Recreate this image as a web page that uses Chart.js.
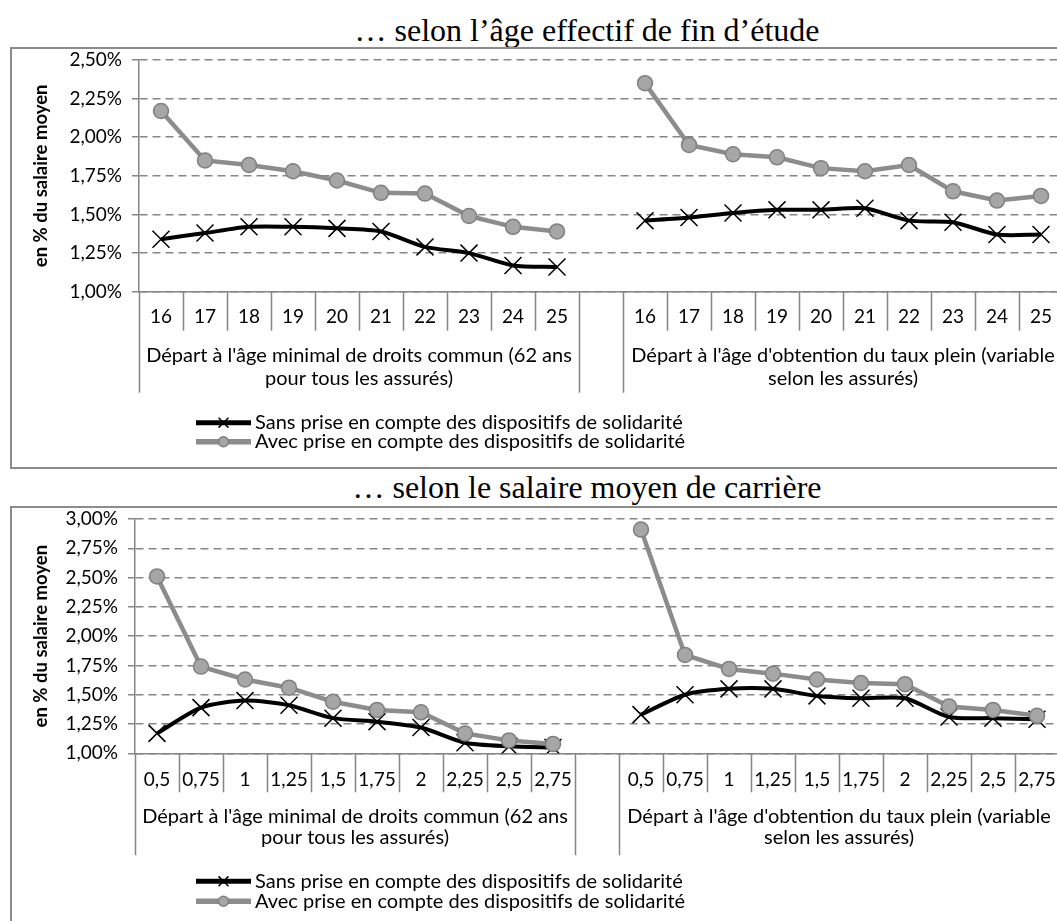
<!DOCTYPE html>
<html lang="fr">
<head>
<meta charset="utf-8">
<script src="https://cdn.jsdelivr.net/npm/chart.js@4.4.1/dist/chart.umd.min.js"></script>
<style>
  html, body { margin: 0; padding: 0; background: #fff; overflow: hidden; }
  body { width: 1057px; height: 921px; position: relative; }
  .titre { position: absolute; left: 0; width: 1174px; text-align: center; font-family: "Liberation Serif", "Times New Roman", serif; font-size: 32px; line-height: 30px; color: #000; white-space: nowrap; }
  .cadre { position: absolute; left: 10px; width: 1120px; border: 2px solid #8c8c8c; box-sizing: border-box; }
  .cadre canvas { position: absolute; left: 0; top: 0; }
</style>
</head>
<body>
<div class="titre" style="top:15px">… selon l’âge effectif de fin d’étude</div>
<div class="cadre" style="top:47px;height:422px"><canvas id="graphAge" width="1051" height="418"></canvas></div>
<div class="titre" style="top:472px">… selon le salaire moyen de carrière</div>
<div class="cadre" style="top:506px;height:460px"><canvas id="graphSalaire" width="1047" height="413"></canvas></div>
<script>
const categoriesAge = ['16', '17', '18', '19', '20', '21', '22', '23', '24', '25'];
const categoriesSalaire = ['0,5', '0,75', '1', '1,25', '1,5', '1,75', '2', '2,25', '2,5', '2,75'];
const groupes = [
  ["Départ à l'âge minimal de droits commun (62 ans", "pour tous les assurés)"],
  ["Départ à l'âge d'obtention du taux plein (variable", "selon les assurés)"]
];
const legendeSans = 'Sans prise en compte des dispositifs de solidarité';
const legendeAvec = 'Avec prise en compte des dispositifs de solidarité';

// valeurs en % du salaire moyen
const ageSansMinimal = [1.34, 1.38, 1.42, 1.42, 1.41, 1.39, 1.29, 1.25, 1.17, 1.16];
const ageSansTauxPlein = [1.46, 1.48, 1.51, 1.53, 1.53, 1.54, 1.46, 1.45, 1.37, 1.37];
const ageAvecMinimal = [2.17, 1.85, 1.82, 1.78, 1.72, 1.64, 1.635, 1.49, 1.42, 1.39];
const ageAvecTauxPlein = [2.35, 1.95, 1.89, 1.87, 1.80, 1.78, 1.82, 1.65, 1.59, 1.62];

const salaireSansMinimal = [1.17, 1.39, 1.45, 1.41, 1.30, 1.27, 1.22, 1.09, 1.06, 1.05];
const salaireSansTauxPlein = [1.33, 1.50, 1.55, 1.55, 1.49, 1.47, 1.47, 1.31, 1.30, 1.29];
const salaireAvecMinimal = [2.51, 1.74, 1.63, 1.56, 1.44, 1.37, 1.35, 1.17, 1.11, 1.08];
const salaireAvecTauxPlein = [2.91, 1.84, 1.72, 1.68, 1.63, 1.60, 1.59, 1.40, 1.37, 1.32];

const gris = '#868686';
const police = 'Lato, "Noto Sans", sans-serif';

// séparateurs, libellés de groupe et légende sous l'axe
const axeGroupes = {
  id: 'axeGroupes',
  afterDraw(chart, args, opts) {
    const ctx = chart.ctx;
    const x = chart.scales.x;
    const bas = chart.chartArea.bottom;
    const n = chart.data.labels.length;
    const largeur = x.getPixelForValue(1) - x.getPixelForValue(0);
    const longs = [0, 10, 11, 21];
    ctx.save();
    ctx.strokeStyle = gris;
    ctx.lineWidth = 1.5;
    for (let i = 0; i <= n; i++) {
      const px = Math.round(x.getPixelForValue(0) - largeur / 2 + i * largeur) + 0.5;
      ctx.beginPath();
      ctx.moveTo(px, bas);
      ctx.lineTo(px, bas + (longs.includes(i) ? opts.long : opts.court));
      ctx.stroke();
    }
    ctx.fillStyle = '#000';
    ctx.font = '20px ' + police;
    ctx.textAlign = 'center';
    ctx.textBaseline = 'middle';
    [[0, 9], [11, 20]].forEach(([a, b], g) => {
      const cx = (x.getPixelForValue(a) + x.getPixelForValue(b)) / 2;
      groupes[g].forEach((ligne, k) => ctx.fillText(ligne, cx, bas + opts.groupe[k]));
    });
    // légende
    chart.data.datasets.forEach((ds, i) => {
      const y = bas + opts.legende[i];
      const x1 = opts.legendeX, x2 = opts.legendeX + 55;
      ctx.strokeStyle = ds.borderColor;
      ctx.lineWidth = ds.borderWidth + 1;
      ctx.beginPath();
      ctx.moveTo(x1, y);
      ctx.lineTo(x2, y);
      ctx.stroke();
      ctx.fillStyle = ds.pointBackgroundColor;
      ctx.strokeStyle = ds.pointBorderColor;
      ctx.lineWidth = ds.pointBorderWidth;
      Chart.helpers.drawPoint(ctx, {pointStyle: ds.pointStyle, radius: ds.pointStyle === 'circle' ? 5 : 7, rotation: 0, borderWidth: ds.pointBorderWidth}, (x1 + x2) / 2, y);
      ctx.fillStyle = '#000';
      ctx.textAlign = 'left';
      ctx.fillText(ds.label, x2 + 4, y);
    });
    ctx.restore();
  }
};

function serie(a, b) {
  return a.concat([null], b);
}

function graphique(id, cats, sans, avec, ymin, ymax, place) {
  return new Chart(document.getElementById(id), {
    type: 'line',
    data: {
      labels: cats.concat([''], cats),
      datasets: [
        {
          label: legendeSans,
          data: sans,
          order: 2,
          borderColor: '#000',
          borderWidth: 4,
          tension: 0.25,
          pointStyle: 'crossRot',
          pointRadius: 12,
          pointBorderWidth: 1.5,
          pointBorderColor: '#000',
          pointBackgroundColor: '#000'
        },
        {
          label: legendeAvec,
          data: avec,
          order: 1,
          borderColor: '#8c8c8c',
          borderWidth: 4.5,
          tension: 0,
          pointStyle: 'circle',
          pointRadius: 7.5,
          pointBorderWidth: 1.5,
          pointBorderColor: '#808080',
          pointBackgroundColor: '#a6a6a6'
        }
      ]
    },
    options: {
      responsive: false,
      animation: false,
      spanGaps: false,
      layout: { autoPadding: false, padding: { top: 11, right: 0, bottom: 0, left: 0 } },
      plugins: {
        legend: { display: false },
        tooltip: { enabled: false },
        axeGroupes: place
      },
      scales: {
        x: {
          offset: true,
          afterFit(scale) {
            scale.height = place.hauteurX;
            scale.paddingLeft = 0;
            scale.paddingRight = 0;
          },
          grid: { display: false, drawTicks: false },
          border: { color: gris, width: 1.5 },
          ticks: { color: '#000', padding: place.padNombres, autoSkip: false, maxRotation: 0, font: { family: police, size: 19 } }
        },
        y: {
          min: ymin,
          max: ymax,
          afterFit(scale) {
            scale.width = place.largeurY;
            scale.paddingTop = 0;
            scale.paddingBottom = 0;
          },
          grid: { color: gris, lineWidth: 1.5, tickLength: 7 },
          border: { color: gris, width: 1.5, dash: [8, 5] },
          title: { display: true, text: 'en % du salaire moyen', color: '#000', padding: { top: 18, bottom: 0 }, font: { family: police, size: 18.5, weight: 'bold' } },
          ticks: { stepSize: 0.25, color: '#000', padding: 10, font: { family: police, size: 19 },
            callback: v => v.toFixed(2).replace('.', ',') + '%' }
        }
      }
    },
    plugins: [axeGroupes]
  });
}

graphique('graphAge', categoriesAge,
  serie(ageSansMinimal, ageSansTauxPlein), serie(ageAvecMinimal, ageAvecTauxPlein), 1, 2.5,
  { largeurY: 127, hauteurX: 175.3, padNombres: 14, court: 39, long: 101, groupe: [64, 87], legende: [131, 150], legendeX: 184 });

graphique('graphSalaire', categoriesSalaire,
  serie(salaireSansMinimal, salaireSansTauxPlein), serie(salaireAvecMinimal, salaireAvecTauxPlein), 1, 3,
  { largeurY: 123, hauteurX: 167.7, padNombres: 15, court: 39, long: 102, groupe: [63, 84], legende: [128, 148], legendeX: 184 });
</script>
</body>
</html>
